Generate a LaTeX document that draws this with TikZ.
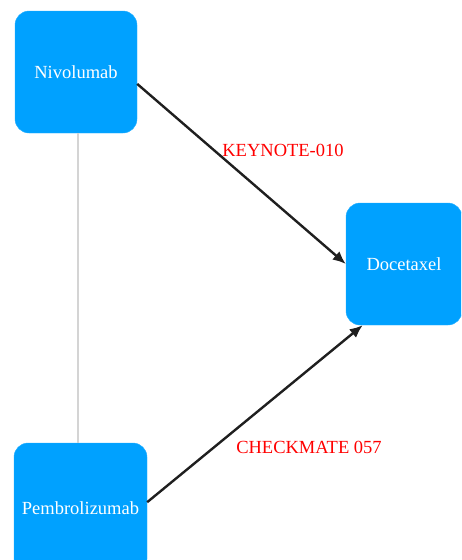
\documentclass[tikz,border=0pt]{standalone}
\usepackage{fontspec}
\setmainfont{Liberation Serif}
\usepackage{xcolor}
\usetikzlibrary{arrows.meta,positioning}

\definecolor{drugblue}{RGB}{0,161,255}
\definecolor{trialred}{RGB}{255,0,0}

\begin{document}
\begin{tikzpicture}[x=1pt,y=-1pt,
        drug/.style={draw=drugblue!85!white,fill=drugblue,rounded corners=14pt,
            text=white,font=\fontsize{18.5}{22}\selectfont,inner sep=0pt},
        trial/.style={text=trialred,font=\fontsize{18.5}{22}\selectfont,inner sep=0pt},
        compare/.style={draw=black!88,line width=2.4pt,-{Latex[length=13pt,width=11pt]}},
        link/.style={draw=black!17,line width=2.2pt}]
        \useasboundingbox (0,0) rectangle (461,560);
        \clip (0,0) rectangle (461,560);
        \node[drug,minimum width=122,minimum height=122] (nivo) at (76,72) {Nivolumab};
        \node[drug,minimum width=116,minimum height=122] (doce) at (404,264) {Docetaxel};
        \node[drug,minimum width=133,minimum height=130] (pembro) at (80.5,508) {Pembrolizumab};
        \draw[link] ([xshift=2pt]nivo.south) -- ([xshift=2pt]nivo.south |- pembro.north);
        \draw[compare] (nivo.-11) -- (doce.west);
        \draw[compare] (pembro.5) -- (doce.236);
        \node[trial] (keynote) at (283,150) {KEYNOTE-010};
        \node[trial] (checkmate) at (309,447) {CHECKMATE 057};
\end{tikzpicture}
\end{document}
